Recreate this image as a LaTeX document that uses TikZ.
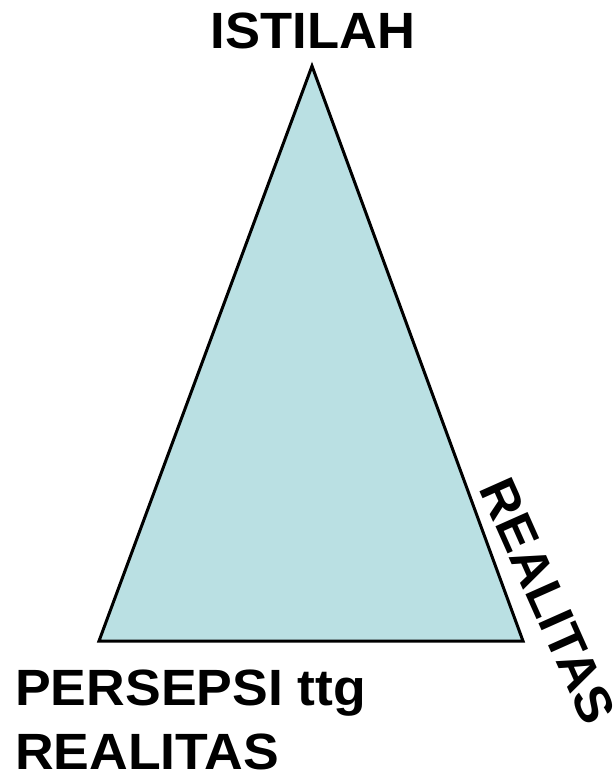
\documentclass[tikz,border=0pt]{standalone}
\usepackage{fontspec}
\setmainfont{Liberation Sans}
\definecolor{trifill}{HTML}{BAE0E3}
\begin{document}
\begin{tikzpicture}[x=1pt,y=-1pt,
  lbl/.style={font=\fontsize{51}{64}\selectfont\bfseries, inner sep=0pt}]
\useasboundingbox (0,0) rectangle (615,774);
\coordinate (apex) at (312,66);
\coordinate (bl) at (99,641);
\coordinate (br) at (523,641);
\draw[fill=trifill, line width=3pt, line join=miter] (apex) -- (br) -- (bl) -- cycle;
\node[lbl, xscale=1.03, anchor=base] (istilah) at (313,48) {ISTILAH};
\node[lbl, xscale=1.05, anchor=base west] (persepsi) at (15,705) {PERSEPSI ttg};
\node[lbl, xscale=1.05, anchor=base west] (realitas1) at (15,769) {REALITAS};
\node[lbl, rotate=-66, xscale=1.04, anchor=center] (realitas2) at (548,601) {REALITAS};
\end{tikzpicture}
\end{document}
